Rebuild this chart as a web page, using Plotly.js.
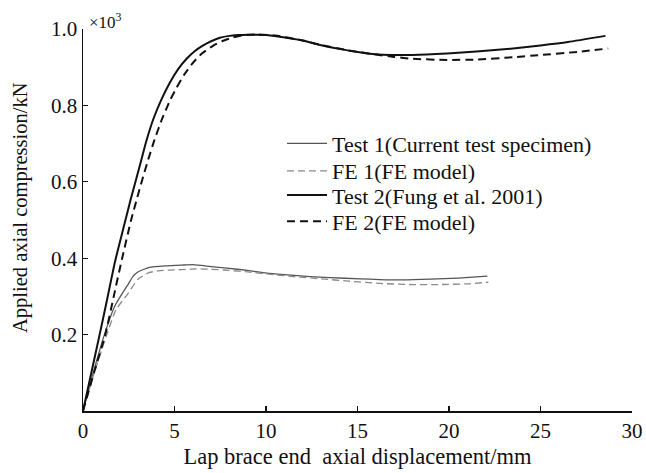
<!DOCTYPE html>
<html>
<head>
<meta charset="utf-8">
<script src="https://cdn.plot.ly/plotly-3.0.1.min.js"></script>
<style>html,body{margin:0;padding:0;background:#fff}#chart{width:646px;height:473px}</style>
</head>
<body>
<div id="chart"></div>
<script>
// Test 1 (current test specimen)
const test1X = [0, 0.5, 1.17, 1.72, 2.27, 2.45, 2.72, 3.0, 3.63, 4.5, 5.4, 6.0, 7.0, 7.85, 9.0, 10.04, 11.0, 12.4, 13.5, 15.15, 16.2, 17.5, 19.0, 20.5, 22.1];
const test1Y = [0, 0.09, 0.2, 0.273, 0.317, 0.33, 0.352, 0.364, 0.376, 0.38, 0.382, 0.383, 0.378, 0.374, 0.368, 0.361, 0.357, 0.352, 0.349, 0.346, 0.344, 0.343, 0.345, 0.348, 0.353];
// FE 1 (FE model)
const fe1X = [0, 0.55, 1.3, 1.8, 2.5, 3.0, 3.6, 4.1, 4.7, 5.39, 6.2, 7.0, 8.0, 9.0, 10.0, 11.5, 13.0, 14.5, 16.2, 18.0, 19.5, 21.0, 22.15];
const fe1Y = [0, 0.09, 0.2, 0.265, 0.31, 0.345, 0.362, 0.367, 0.369, 0.370, 0.372, 0.371, 0.368, 0.364, 0.359, 0.352, 0.346, 0.34, 0.334, 0.331, 0.331, 0.333, 0.337];
// Test 2 (Fung et al. 2001)
const test2X = [0, 0.45, 0.9, 1.3, 1.72, 2.02, 2.32, 2.6, 2.9, 3.18, 3.45, 3.85, 4.27, 4.75, 5.2, 5.66, 6.1, 6.57, 7.0, 7.48, 8.0, 8.5, 9.0, 9.5, 10.0, 10.76, 12.0, 12.95, 14.0, 15.0, 16.0, 16.8, 18.0, 19.9, 21.5, 23.5, 25.0, 26.5, 28.55];
const test2Y = [0, 0.099, 0.198, 0.288, 0.385, 0.443, 0.5, 0.553, 0.606, 0.656, 0.705, 0.765, 0.814, 0.86, 0.895, 0.922, 0.942, 0.957, 0.968, 0.977, 0.982, 0.984, 0.985, 0.985, 0.984, 0.98, 0.97, 0.958, 0.948, 0.94, 0.934, 0.932, 0.932, 0.936, 0.941, 0.949, 0.957, 0.966, 0.982];
// FE 2 (FE model)
const fe2X = [0, 0.6, 1.22, 1.68, 2.14, 2.63, 2.93, 3.23, 3.55, 3.9, 4.3, 4.76, 5.1, 5.55, 6.0, 6.5, 7.1, 7.6, 8.2, 8.8, 9.5, 10.5, 12.0, 13.0, 14.5, 16.0, 17.0, 18.0, 19.9, 21.5, 23.5, 25.0, 27.0, 28.7];
const fe2Y = [0, 0.1, 0.2, 0.3, 0.4, 0.5, 0.553, 0.604, 0.656, 0.709, 0.762, 0.814, 0.845, 0.882, 0.911, 0.936, 0.956, 0.968, 0.978, 0.984, 0.986, 0.983, 0.97, 0.958, 0.944, 0.933, 0.927, 0.922, 0.919, 0.92, 0.926, 0.932, 0.94, 0.949];

const seriesNames = ['Test 1(Current test specimen)', 'FE 1(FE model)', 'Test 2(Fung et al. 2001)', 'FE 2(FE model)'];
const xTicks = [0, 5, 10, 15, 20, 25, 30];
const yTicks = [0.2, 0.4, 0.6, 0.8, 1.0];
const yTickText = ['0.2', '0.4', '0.6', '0.8', '1.0'];

const FONT = 'Liberation Serif, Times New Roman, serif';

const traces = [
  {x: test1X, y: test1Y, name: seriesNames[0], legend: 'legend', mode: 'lines', line: {color: '#555555', width: 1.3, shape: 'spline', smoothing: 0.5}},
  {x: fe1X, y: fe1Y, name: seriesNames[1], legend: 'legend2', mode: 'lines', line: {color: '#8a8a8a', width: 1.3, dash: '7px,4px', shape: 'spline', smoothing: 0.5}},
  {x: test2X, y: test2Y, name: seriesNames[2], legend: 'legend3', mode: 'lines', line: {color: '#111111', width: 2, shape: 'spline', smoothing: 0.5}},
  {x: fe2X, y: fe2Y, name: seriesNames[3], legend: 'legend4', mode: 'lines', line: {color: '#111111', width: 2, dash: '8px,5px', shape: 'spline', smoothing: 0.5}}
];

function leg(y) {
  return {x: 0.3625, y: y, xanchor: 'left', yanchor: 'middle', bgcolor: 'rgba(0,0,0,0)', itemwidth: 40,
          font: {family: FONT, size: 22, color: '#111'}};
}

const layout = {
  width: 646, height: 473,
  margin: {l: 83, r: 14, t: 29, b: 62},
  paper_bgcolor: '#ffffff', plot_bgcolor: '#ffffff',
  font: {family: FONT, size: 21, color: '#111'},
  showlegend: true,
  legend: leg(0.7),
  legend2: leg(0.628),
  legend3: leg(0.565),
  legend4: leg(0.496),
  xaxis: {
    range: [0, 30], tickvals: xTicks, ticktext: xTicks.map(String),
    ticks: 'inside', ticklen: 5, tickwidth: 1.3, tickcolor: '#111',
    showline: true, linecolor: '#111', linewidth: 1.5, showgrid: false, zeroline: false,
    tickfont: {family: FONT, size: 21, color: '#111'},
    title: {text: 'Lap brace end  axial displacement/mm', font: {family: FONT, size: 22.5, color: '#111'}, standoff: 6}
  },
  yaxis: {
    range: [0, 1.0], tickvals: yTicks, ticktext: yTickText,
    ticks: 'inside', ticklen: 5, tickwidth: 1.3, tickcolor: '#111',
    showline: true, linecolor: '#111', linewidth: 1.5, showgrid: false, zeroline: false,
    tickfont: {family: FONT, size: 21, color: '#111'}
  },
  annotations: [
    {xref: 'paper', yref: 'paper', x: 0.008, y: 1.022, xanchor: 'left', yanchor: 'middle', showarrow: false,
     text: '×10<sup>3</sup>', font: {family: FONT, size: 17, color: '#111'}},
    {xref: 'paper', yref: 'paper', x: -0.1148, y: 0.534, xanchor: 'center', yanchor: 'middle', showarrow: false, textangle: -90,
     text: 'Applied axial compression/kN', font: {family: FONT, size: 20.5, color: '#111'}}
  ]
};

Plotly.newPlot('chart', traces, layout, {displayModeBar: false, staticPlot: true});
</script>
</body>
</html>
